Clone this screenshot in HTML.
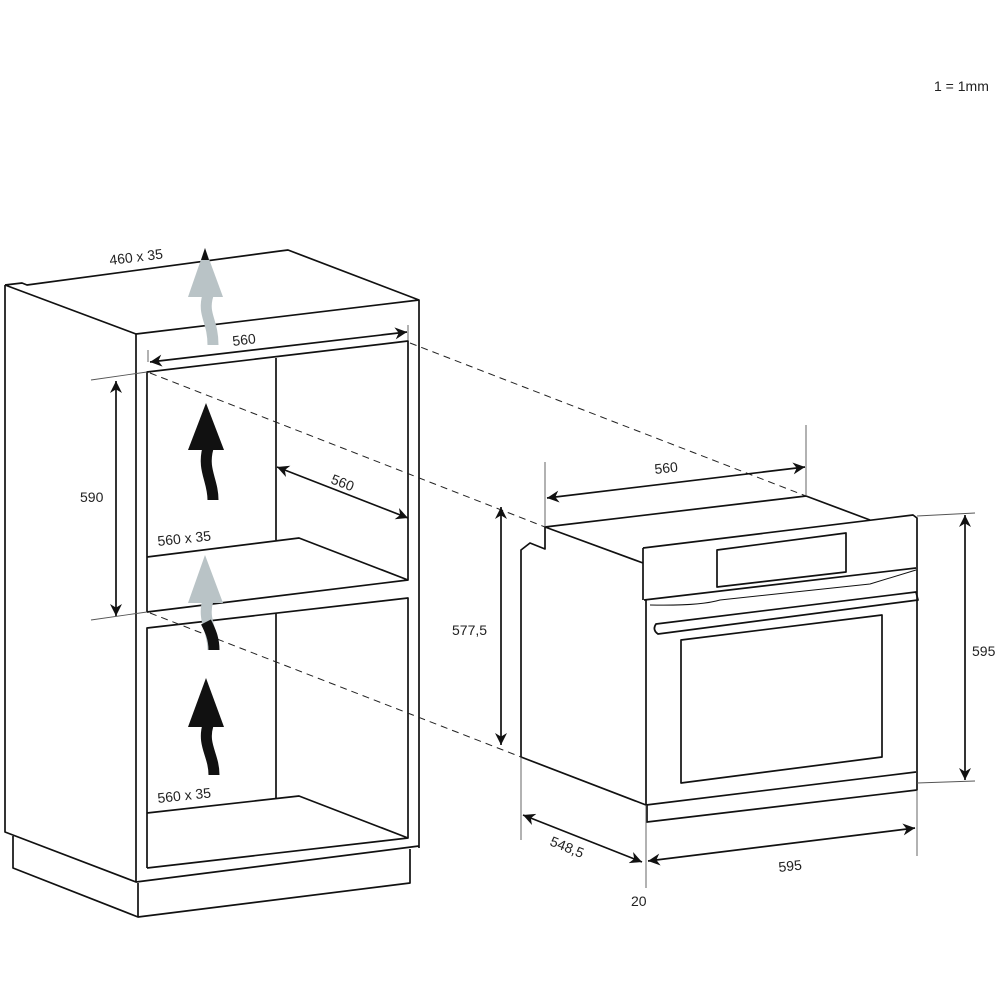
<!DOCTYPE html>
<html><head><meta charset="utf-8"><style>
html,body{margin:0;padding:0;background:#fff;width:1000px;height:1000px;overflow:hidden}
svg text{font-family:"Liberation Sans",sans-serif;font-size:14px;fill:#222}
</style></head><body>
<svg width="1000" height="1000" viewBox="0 0 1000 1000" xmlns="http://www.w3.org/2000/svg">
<defs>
<marker id="a" viewBox="0 0 10 10" refX="10" refY="5" markerWidth="14" markerHeight="12" orient="auto-start-reverse" markerUnits="userSpaceOnUse"><path d="M0,0 L10,5 L0,10 L3,5 Z" fill="#111"/></marker>
</defs>
<text x="934" y="91">1 = 1mm</text>

<g fill="none" stroke="#111" stroke-width="1.7" stroke-linejoin="round">
<path d="M5,285 L22,283 L27,285 L280,251 L288,250 L419,300 L419,848"/>
<path d="M5,285 L136,334 L419,300"/>
<path d="M5,285 L5,832 L136,882 L136,334"/>
<path d="M136,882 L419,846"/>
<path d="M13,836 L13,868 L138,917 L410,883 L410,849"/>
<path d="M138,883 L138,917"/>
<path d="M147,612 L147,372 L408,341 L408,580 L147,612"/>
<path d="M276,358 L276,540"/>
<path d="M147,557 L299,538 L408,580"/>
<path d="M147,868 L147,628 L408,598 L408,838 L147,868"/>
<path d="M276,613 L276,798"/>
<path d="M147,813 L299,796 L408,838"/>

<path d="M545,527 L806,496 L870,520"/>
<path d="M545,527 L643,563"/>
<path d="M545,527 L545,549 L530,543 L521,550 L521,757 L646,805"/>
<path d="M643,548 L913,515 L917,518 L917,790 L647,822 L647,805"/>
<path d="M643,548 L643,600"/>
<path d="M644,600 L916,568"/>
<path d="M646,600 L646,805 L916,772"/>
<path d="M717,550 L846,533 L846,572 L717,587 Z"/>
<path d="M656,624 L916,592 L918,600 L658,634 Q652,630 656,624 Z"/>
<path d="M681,640 L882,615 L882,757 L681,783 Z"/>
<path d="M650,605 Q700,606 720,600 L870,584 L916,570" stroke-width="1"/>
</g>

<g stroke="#555" stroke-width="0.9" fill="none">
<path d="M91,380 L147,372"/><path d="M91,620 L147,612"/>
<path d="M148,362 L148,350"/><path d="M408,325 L408,340"/>
<path d="M545,462 L545,527"/><path d="M806,425 L806,496"/>
<path d="M917,516 L975,513"/><path d="M917,783 L975,781"/>
<path d="M521,757 L521,840"/><path d="M646,805 L646,888"/><path d="M917,790 L917,856"/>
</g>
<g stroke="#222" stroke-width="1" stroke-dasharray="7,5" fill="none">
<path d="M410,343 L806,496"/>
<path d="M150,373 L545,527"/>
<path d="M150,613 L521,757"/>
</g>

<g stroke="#111" stroke-width="1.7" fill="none" marker-start="url(#a)" marker-end="url(#a)">
<path d="M150,362 L407,332"/>
<path d="M277,467 L408,518"/>
<path d="M116,381 L116,616"/>
<path d="M547,498 L805,467"/>
<path d="M501,507 L501,745"/>
<path d="M965,515 L965,780"/>
<path d="M523,815 L642,862"/>
<path d="M648,861 L915,828"/>
</g>

<g>
<path d="M213,345 C213,320 202,315 208,295" stroke="#b9c3c6" stroke-width="11" fill="none"/>
<path d="M205,248 L188,297 L223,297 Z" fill="#b9c3c6"/>
<path d="M205,248 L201,260 L209,260 Z" fill="#111"/>
<path d="M213,500 C213,480 202,470 208,448" stroke="#111" stroke-width="11" fill="none"/>
<path d="M206,403 L188,450 L224,450 Z" fill="#111"/>
<path d="M213,650 C213,630 202,620 208,600" stroke="#b9c3c6" stroke-width="11" fill="none"/>
<path d="M214,650 C214,638 210,630 206,622" stroke="#111" stroke-width="11" fill="none"/>
<path d="M205,555 L188,603 L223,603 Z" fill="#b9c3c6"/>
<path d="M214,775 C214,755 202,745 208,725" stroke="#111" stroke-width="11" fill="none"/>
<path d="M206,678 L188,727 L224,727 Z" fill="#111"/>
</g>

<text x="110" y="265" transform="rotate(-7 110 265)">460 x 35</text>
<text x="233" y="346" transform="rotate(-7 233 346)">560</text>
<text x="158" y="546" transform="rotate(-6 158 546)">560 x 35</text>
<text x="158" y="803" transform="rotate(-6 158 803)">560 x 35</text>
<text x="80" y="502">590</text>
<text x="330" y="483" transform="rotate(21 330 483)">560</text>
<text x="655" y="474" transform="rotate(-6 655 474)">560</text>
<text x="452" y="635">577,5</text>
<text x="972" y="656">595</text>
<text x="549" y="845" transform="rotate(22 549 845)">548,5</text>
<text x="779" y="872" transform="rotate(-6 779 872)">595</text>
<text x="631" y="906">20</text>
</svg>
</body></html>
